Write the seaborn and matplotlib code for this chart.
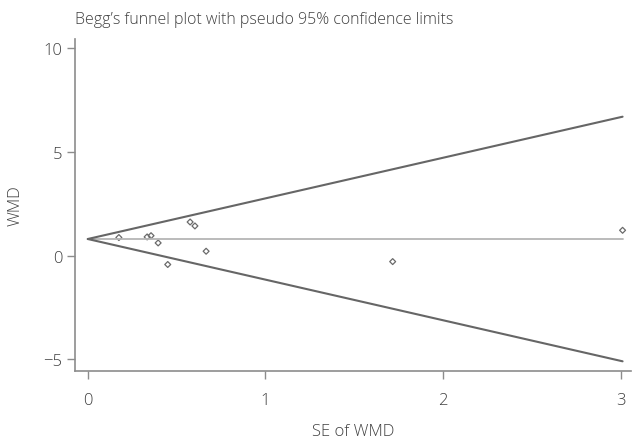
import matplotlib
matplotlib.use("Agg")
import matplotlib.pyplot as plt
import numpy as np
import pandas as pd
import seaborn as sns

# study estimates
se_wmd = [0.175, 0.334, 0.356, 0.396, 0.45, 0.576, 0.603, 0.666, 1.716, 3.01]
wmd = [0.87, 0.90, 0.96, 0.61, -0.43, 1.62, 1.43, 0.21, -0.29, 1.22]
pooled = 0.8
se_range = [0.0, 3.01]

x_ticks = [0, 1, 2, 3]
y_ticks = [-5, 0, 5, 10]

TEXT = "#404040"
AXIS = "#8c8c8c"

sns.set_style("white")
plt.rcParams.update({
    "font.family": ["Open Sans", "DejaVu Sans"],
    "font.weight": "light",
    "axes.labelweight": "light",
    "text.color": TEXT,
    "axes.labelcolor": TEXT,
    "xtick.color": AXIS,
    "ytick.color": AXIS,
    "xtick.labelcolor": TEXT,
    "ytick.labelcolor": TEXT,
})

points = pd.DataFrame({"se": se_wmd, "wmd": wmd})
se_arr = np.array(se_range)
limits = pd.DataFrame({
    "se": np.concatenate([se_arr, se_arr]),
    "limit": np.concatenate([pooled + 1.96 * se_arr, pooled - 1.96 * se_arr]),
    "side": ["upper"] * 2 + ["lower"] * 2,
})
centre = pd.DataFrame({"se": se_range, "wmd": [pooled, pooled]})

fig = plt.figure(figsize=(6.34, 4.39), dpi=100)
ax = fig.add_axes([0.118, 0.152, 0.878, 0.757])

sns.lineplot(data=centre, x="se", y="wmd", color="#b5b5b5", linewidth=1.3, ax=ax)
sns.lineplot(data=limits, x="se", y="limit", units="side", estimator=None,
             color="#666666", linewidth=1.5, dashes=False, ax=ax)
sns.scatterplot(data=points, x="se", y="wmd", marker="D", s=9,
                facecolors="none", edgecolor="#6a6a6a", linewidth=0.9, ax=ax)

ax.set_xlim(-0.073, 3.06)
ax.set_ylim(-5.58, 10.45)
ax.set_xticks(x_ticks)
ax.set_yticks(y_ticks)
ax.set_yticklabels(["\u22125", "0", "5", "10"])
ax.tick_params(axis="both", which="major", bottom=True, left=True,
               direction="out", length=6, width=1, labelsize=12, pad=3)
ax.tick_params(axis="x", pad=9)

for side in ["top", "right"]:
    ax.spines[side].set_visible(False)
for side in ["left", "bottom"]:
    ax.spines[side].set_color(AXIS)
    ax.spines[side].set_linewidth(1.2)

ax.set_xlabel("SE of WMD", fontsize=12, labelpad=11)
ax.set_ylabel("WMD", fontsize=12, labelpad=14)
fig.text(0.118, 0.955, "Begg\u2019s funnel plot with pseudo 95% confidence limits",
         fontsize=11.5, color=TEXT, ha="left", va="center")

fig.savefig("out.png", dpi=100)
